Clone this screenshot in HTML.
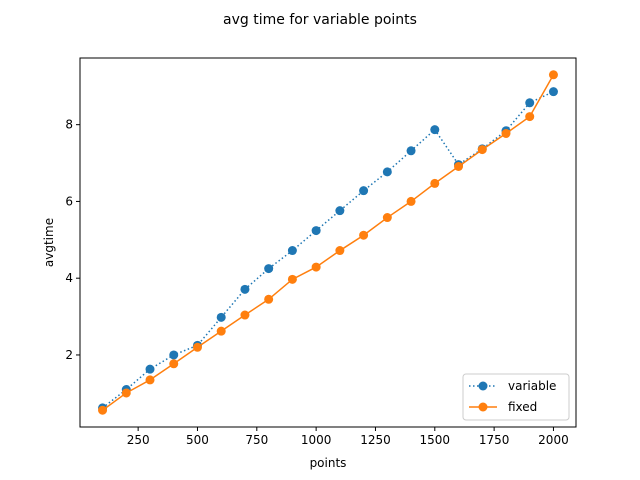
<!DOCTYPE html>
<html><head><meta charset="utf-8"><style>body{margin:0;background:#fff}svg{display:block;font-family:"DejaVu Sans","Liberation Sans",sans-serif}</style></head>
<body>
<svg id="c" width="640" height="480"></svg>
<script>
const xs=[100,200,300,400,500,600,700,800,900,1000,1100,1200,1300,1400,1500,1600,1700,1800,1900,2000];
const variableVals=[0.62,1.1,1.63,2.0,2.25,2.98,3.71,4.25,4.72,5.24,5.76,6.28,6.77,7.32,7.87,6.96,7.37,7.84,8.57,8.86];
const fixedVals=[0.56,1.01,1.35,1.77,2.2,2.62,3.04,3.45,3.97,4.29,4.72,5.12,5.58,6.0,6.47,6.91,7.35,7.77,8.21,9.3];
const xTicks=[250,500,750,1000,1250,1500,1750,2000];
const yTicks=[2,4,6,8];
const L=80,R=576,T=58,B=427;
const all=variableVals.concat(fixedVals);
const ymin=Math.min(...all),ymax=Math.max(...all),yp=(ymax-ymin)*0.05;
const xmin=Math.min(...xs),xmax=Math.max(...xs),xp=(xmax-xmin)*0.05;
const X=v=>L+(v-(xmin-xp))/((xmax+xp)-(xmin-xp))*(R-L);
const Y=v=>B-(v-(ymin-yp))/((ymax+yp)-(ymin-yp))*(B-T);
const svg=document.getElementById('c');const NS='http://www.w3.org/2000/svg';
function mk(t,a,p){const e=document.createElementNS(NS,t);for(const k in a)e.setAttribute(k,a[k]);(p||svg).appendChild(e);return e;}
let e=mk('text',{x:320,y:24,'text-anchor':'middle','font-size':14});e.textContent='avg time for variable points';


xTicks.forEach(t=>{mk('line',{x1:X(t),x2:X(t),y1:B,y2:B+4,stroke:'#000'});const s=mk('text',{x:X(t),y:B+17,'text-anchor':'middle','font-size':12});s.textContent=t;

});
yTicks.forEach(t=>{mk('line',{x1:L-4,x2:L,y1:Y(t),y2:Y(t),stroke:'#000'});const s=mk('text',{x:L-7,y:Y(t)+4,'text-anchor':'end','font-size':12});s.textContent=t;

});
e=mk('text',{x:328,y:467,'text-anchor':'middle','font-size':12});e.textContent='points';


e=mk('text',{x:0,y:0,'text-anchor':'middle','font-size':12,transform:`translate(53,${(T+B)/2}) rotate(-90)`});e.textContent='avgtime';


function series(vals,col,dash,name){
  const g=mk('g',{});
  
  
  mk('polyline',{points:xs.map((x,i)=>X(x)+','+Y(vals[i])).join(' '),fill:'none',stroke:col,'stroke-width':1.5,'stroke-dasharray':dash||''},g);
  xs.forEach((x,i)=>{const c=mk('circle',{cx:X(x),cy:Y(vals[i]),r:4.5,fill:col},g);
  
  });
}
series(variableVals,'#1f77b4','1.5,2.5','variable');
series(fixedVals,'#ff7f0e','','fixed');
mk('rect',{x:L,y:T,width:R-L,height:B-T,fill:'none',stroke:'#000','stroke-width':1});
const lg=mk('g',{});


mk('rect',{x:463,y:374,width:106,height:46,rx:3,fill:'#fff','fill-opacity':0.8,stroke:'#ccc'},lg);
[['variable','#1f77b4','1.5,2.5',386],['fixed','#ff7f0e','',407]].forEach(([n,c,d,y])=>{
  mk('line',{x1:469,x2:497,y1:y,y2:y,stroke:c,'stroke-width':1.5,'stroke-dasharray':d},lg);
  mk('circle',{cx:483,cy:y,r:4.5,fill:c},lg);
  const t=mk('text',{x:508,y:y+4,'font-size':12},lg);t.textContent=n;
  
  
});
</script>
</body></html>
